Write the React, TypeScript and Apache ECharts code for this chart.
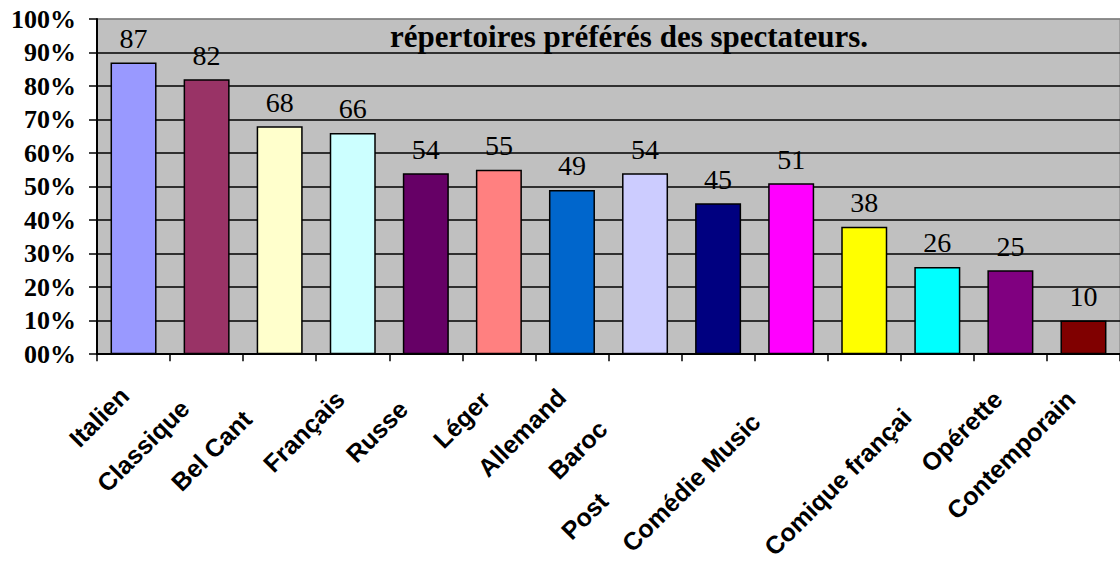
import React, { useEffect, useRef } from "react";
import * as echarts from "echarts";

const categories = [
  "Italien", "Classique", "Bel Cant", "Français", "Russe", "Léger", "Allemand",
  "Baroc", "Post", "Comédie Music", "", "Comique françai", "Opérette", "Contemporain",
];
const values = [87, 82, 68, 66, 54, 55, 49, 54, 45, 51, 38, 26, 25, 10];
const colors = [
  "#9999FF", "#993366", "#FFFFCC", "#CCFFFF", "#660066", "#FF8080", "#0066CC",
  "#CCCCFF", "#000080", "#FF00FF", "#FFFF00", "#00FFFF", "#800080", "#800000",
];
const titleText = "répertoires préférés des spectateurs.";

// layout: per-label shift along the rotated text direction
const labelShift = [13, 31, 46, 18, 32, 19, 15, 60, 162, 50, 0, 43, 18, 18];

const SERIF = "'Liberation Serif', 'Times New Roman', serif";

export default function App() {
  const ref = useRef<HTMLDivElement>(null);
  useEffect(() => {
    if (!ref.current) return;
    const chart = echarts.init(ref.current, null, { renderer: "svg" });
    const rich: any = {};
    labelShift.forEach((p, i) => {
      rich["l" + i] = {
        padding: [0, p, 0, 0],
        fontFamily: "'Liberation Sans', Arial, sans-serif",
        fontWeight: "bold",
        fontSize: 25,
        color: "#000",
      };
    });
    chart.setOption({
      animation: false,
      backgroundColor: "#fff",
      title: {
        text: titleText,
        left: 385,
        top: 16,
        z: 10,
        textStyle: {
          fontFamily: SERIF,
          fontWeight: "bold",
          fontSize: 31,
          color: "#000",
        },
      },
      grid: {
        left: 97,
        top: 19,
        width: 1036,
        height: 342,
        show: true,
        backgroundColor: "#C0C0C0",
        borderColor: "#808080",
        borderWidth: 1,
      },
      xAxis: {
        type: "category",
        data: categories,
        axisLine: { lineStyle: { color: "#000", width: 2 } },
        axisTick: { show: true, length: 7, lineStyle: { color: "#000", width: 1.5 } },
        axisLabel: {
          interval: 0,
          rotate: 45,
          margin: 28,
          formatter: (v: string, i: number) => (v ? `{l${i}|${v}}` : ""),
          rich,
        },
      },
      yAxis: {
        type: "value",
        min: 0,
        max: 100,
        interval: 10,
        axisLine: { show: true, lineStyle: { color: "#000", width: 2 } },
        axisTick: { show: true, length: 8, lineStyle: { color: "#000", width: 1.5 } },
        splitLine: {
          show: true,
          lineStyle: {
            color: ["#000", "#000", "#000", "#000", "#000", "#000", "#000", "#000", "#000", "#000", "#808080"],
            width: 1.5,
          },
        },
        axisLabel: {
          margin: 21,
          formatter: (v: number) => (v === 0 ? "00%" : v + "%"),
          fontFamily: SERIF,
          fontWeight: "bold",
          fontSize: 26,
          color: "#000",
        },
      },
      series: [
        {
          type: "bar",
          data: values.map((v, i) => ({ value: v, itemStyle: { color: colors[i] } })),
          barWidth: 46,
          itemStyle: { borderColor: "#000", borderWidth: 1.5 },
          label: {
            show: true,
            position: "top",
            distance: 10,
            fontFamily: SERIF,
            fontSize: 28,
            color: "#000",
          },
        },
      ],
    });
    return () => chart.dispose();
  }, []);
  return (
    <div
      ref={ref}
      style={{ position: "fixed", left: 0, top: 0, width: 1120, height: 562, background: "#fff" }}
    />
  );
}
